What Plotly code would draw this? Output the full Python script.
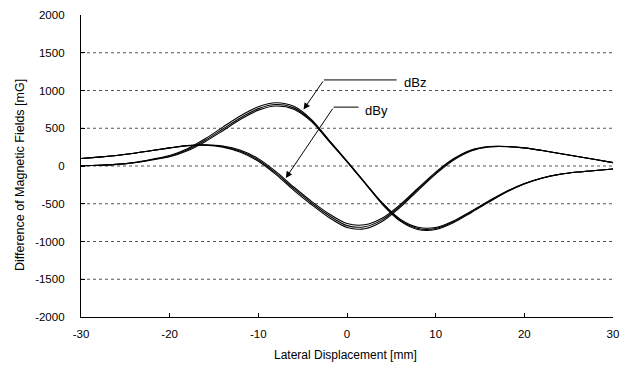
import plotly.graph_objects as go

# Lateral displacement [mm]
x_mm = [-30, -28, -26, -24, -22, -20, -18, -16, -14, -12, -10, -8, -6, -4, -2, 0,
        2, 4, 6, 8, 10, 12, 14, 16, 18, 20, 22, 24, 26, 28, 30]

# dBz [mG], three measurements
dBz_1 = [5, 10, 22, 47, 90, 140, 230, 360, 515, 665, 785, 838, 790, 615, 340, 65,
         -215, -490, -705, -812, -815, -728, -598, -462, -335, -232, -158, -110, -80, -60, -40]
dBz_2 = [5, 10, 22, 45, 85, 130, 215, 340, 490, 640, 760, 815, 770, 600, 330, 60,
         -220, -500, -718, -827, -828, -740, -608, -470, -340, -235, -160, -110, -80, -60, -40]
dBz_3 = [5, 10, 21, 43, 80, 122, 202, 322, 468, 618, 740, 795, 752, 588, 322, 55,
         -225, -510, -730, -842, -842, -752, -618, -478, -345, -238, -162, -111, -80, -60, -40]

# dBy [mG], three measurements
dBy_1 = [100, 118, 140, 168, 205, 240, 272, 282, 265, 208, 98, -75, -278, -468, -635, -762,
         -778, -688, -512, -295, -82, 95, 212, 258, 258, 240, 205, 165, 125, 85, 45]
dBy_2 = [100, 118, 140, 168, 205, 240, 270, 278, 258, 195, 80, -95, -300, -490, -660, -790,
         -805, -710, -530, -310, -95, 85, 205, 255, 258, 240, 205, 165, 125, 85, 45]
dBy_3 = [100, 118, 140, 168, 205, 240, 268, 274, 250, 182, 62, -115, -322, -512, -685, -815,
         -832, -732, -548, -325, -108, 75, 198, 252, 256, 239, 205, 165, 125, 85, 45]

y_ticks = [-2000, -1500, -1000, -500, 0, 500, 1000, 1500, 2000]
y_tick_labels = ["-2000", "-1500", "-1000", "-500", "0", "500", "1000", "1500", "2000"]
x_ticks = [-30, -20, -10, 0, 10, 20, 30]
x_tick_labels = ["-30", "-20", "-10", "0", "10", "20", "30"]
grid_levels = [1500, 1000, 500, 0, -500, -1000, -1500]

FONT = "Liberation Sans, Arial, sans-serif"

fig = go.Figure()
for name, ys in [("dBz", dBz_1), ("dBz", dBz_2), ("dBz", dBz_3),
                 ("dBy", dBy_1), ("dBy", dBy_2), ("dBy", dBy_3)]:
    fig.add_trace(go.Scatter(x=x_mm, y=ys, mode="lines", name=name,
                             line=dict(color="black", width=1.1, shape="spline", smoothing=0.8),
                             showlegend=False))

shapes = []
for g in grid_levels:
    shapes.append(dict(type="line", xref="x", yref="y", x0=-30, x1=30, y0=g, y1=g,
                       line=dict(color="#555555", width=1, dash="dot"), layer="below"))
# leader lines of callouts
shapes.append(dict(type="line", xref="x", yref="y", x0=-2.6, x1=5.6, y0=1140, y1=1140,
                   line=dict(color="black", width=1)))
shapes.append(dict(type="line", xref="x", yref="y", x0=-1.5, x1=1.3, y0=780, y1=780,
                   line=dict(color="black", width=1)))

annotations = [
    dict(x=-4.9, y=750, ax=-2.6, ay=1140, axref="x", ayref="y", xref="x", yref="y",
         text="", showarrow=True, arrowhead=2, arrowsize=1.3, arrowwidth=1, arrowcolor="black"),
    dict(x=-6.9, y=-160, ax=-1.5, ay=780, axref="x", ayref="y", xref="x", yref="y",
         text="", showarrow=True, arrowhead=2, arrowsize=1.3, arrowwidth=1, arrowcolor="black"),
    dict(x=6.2, y=1110, xref="x", yref="y", text="dBz", showarrow=False, xanchor="left",
         yanchor="middle", font=dict(family=FONT, size=13, color="black")),
    dict(x=1.8, y=730, xref="x", yref="y", text="dBy", showarrow=False, xanchor="left",
         yanchor="middle", font=dict(family=FONT, size=13, color="black")),
    dict(x=-0.1147, y=0.47, xref="paper", yref="paper", text="Difference of Magnetic Fields [mG]",
         textangle=-90, showarrow=False, xanchor="center", yanchor="middle",
         font=dict(family=FONT, size=12.5, color="black")),
    dict(x=0.498, y=-0.126, xref="paper", yref="paper", text="Lateral Displacement [mm]",
         showarrow=False, xanchor="center", yanchor="middle",
         font=dict(family=FONT, size=12, color="black")),
]

# the page adds an 8px offset; margins compensate so the plot area sits at x 81-613, y 15-317
fig.update_layout(
    width=628, height=374,
    margin=dict(l=73, r=23, t=7, b=65, autoexpand=False),
    paper_bgcolor="white", plot_bgcolor="white",
    shapes=shapes, annotations=annotations,
    font=dict(family=FONT, size=11, color="black"),
)
fig.update_xaxes(range=[-30, 30], tickvals=x_ticks, ticktext=x_tick_labels,
                 ticks="inside", ticklen=4, automargin=False,
                 tickcolor="black", showline=True, linecolor="black", linewidth=1.3,
                 showgrid=False, zeroline=False, ticklabelstandoff=6,
                 tickfont=dict(family=FONT, size=11.5, color="black"))
fig.update_yaxes(range=[-2000, 2000], tickvals=y_ticks, ticktext=y_tick_labels,
                 ticks="inside", ticklen=4, automargin=False,
                 tickcolor="black", showline=True, linecolor="black", linewidth=1.3,
                 showgrid=False, zeroline=False, ticklabelstandoff=13,
                 tickfont=dict(family=FONT, size=11.5, color="black"))

fig.write_html("out.html")
